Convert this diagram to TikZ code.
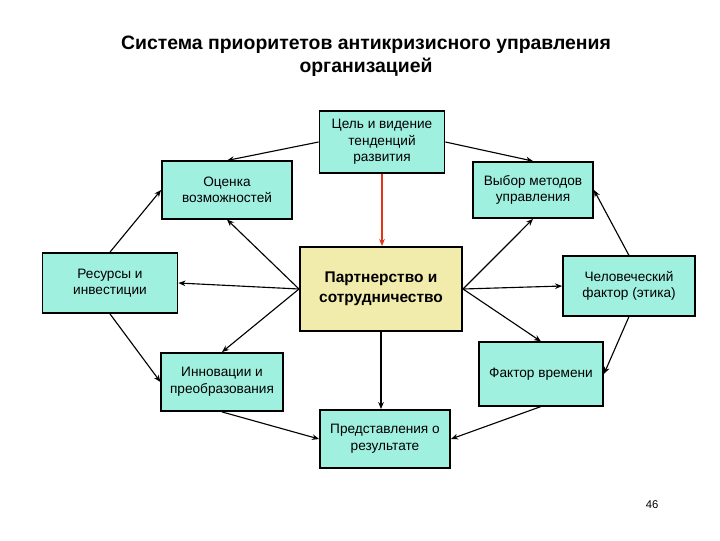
\documentclass[tikz,border=0pt]{standalone}
\usepackage{fontspec}
\setmainfont{Liberation Sans}
\usetikzlibrary{arrows.meta}
\definecolor{boxaqua}{RGB}{160,240,224}
\definecolor{boxsand}{RGB}{242,236,172}
\definecolor{goalred}{RGB}{226,52,22}

\begin{document}
\begin{tikzpicture}[
  x=0.025cm, y=-0.025cm,
  box/.style={draw=black, line width=1.3pt, fill=boxaqua, align=center, inner sep=2pt, font=\fontsize{9.7}{11.8}\selectfont},
  core/.style={draw=black, line width=1.4pt, fill=boxsand, align=center, font=\fontsize{11}{14}\selectfont\bfseries, minimum width=4.05cm, minimum height=2.1cm},
  arr/.style={-{Stealth[length=5pt,width=4pt]}, line width=0.8pt, draw=black}
]
\useasboundingbox (0,0) rectangle (720,540);
\node[font=\fontsize{13.8}{16.5}\selectfont\bfseries, align=center] (title) at (366,56) {Система приоритетов антикризисного управления\\организацией};
\node[box, minimum width=3.125cm, minimum height=1.55cm] (goal) at (382,142) {Цель и видение\\тенденций\\развития};
\node[box, minimum width=3.25cm, minimum height=1.43cm] (eval) at (227,190) {Оценка\\возможностей};
\node[box, minimum width=3.0cm, minimum height=1.4cm] (choice) at (533,190) {Выбор методов\\управления};
\node[box, minimum width=3.375cm, minimum height=1.5cm] (res) at (110,283) {Ресурсы и\\инвестиции};
\node[core] (partner) at (381,289) {Партнерство и\\сотрудничество};
\node[box, minimum width=3.3cm, minimum height=1.48cm] (human) at (629,286) {Человеческий\\фактор (этика)};
\node[box, minimum width=3.03cm, minimum height=1.45cm] (innov) at (222,382) {Инновации и\\преобразования};
\node[box, minimum width=3.1cm, minimum height=1.58cm] (time) at (541,374) {Фактор времени};
\node[box, minimum width=3.25cm, minimum height=1.45cm] (result) at (385,439) {Представления о\\результате};
\node[font=\fontsize{8}{10}\selectfont] (page) at (652,505) {46};
% from the goal
\draw[arr] (goal.west) -- (eval.north);
\draw[arr] (goal.east) -- (choice.north);
\draw[arr, draw=goalred, line width=1pt] (goal.south) -- (goal.south |- partner.north);
% outer ring
\draw[arr] (res.north) -- (eval.west);
\draw[arr] (res.south) -- (innov.west);
\draw[arr] (human.north) -- (choice.east);
\draw[arr] (human.south) -- (time.east);
\draw[arr] (innov.south) -- (result.west);
\draw[arr] (time.south) -- (result.east);
% from the centre
\draw[arr] (partner.west) -- (eval.south);
\draw[arr] (partner.west) -- (res.east);
\draw[arr] (partner.west) -- (innov.north);
\draw[arr] (partner.east) -- (choice.south);
\draw[arr] (partner.east) -- (human.west);
\draw[arr] (partner.east) -- (time.north);
\draw[arr] (partner.south) -- (partner.south |- result.north);
\end{tikzpicture}
\end{document}
